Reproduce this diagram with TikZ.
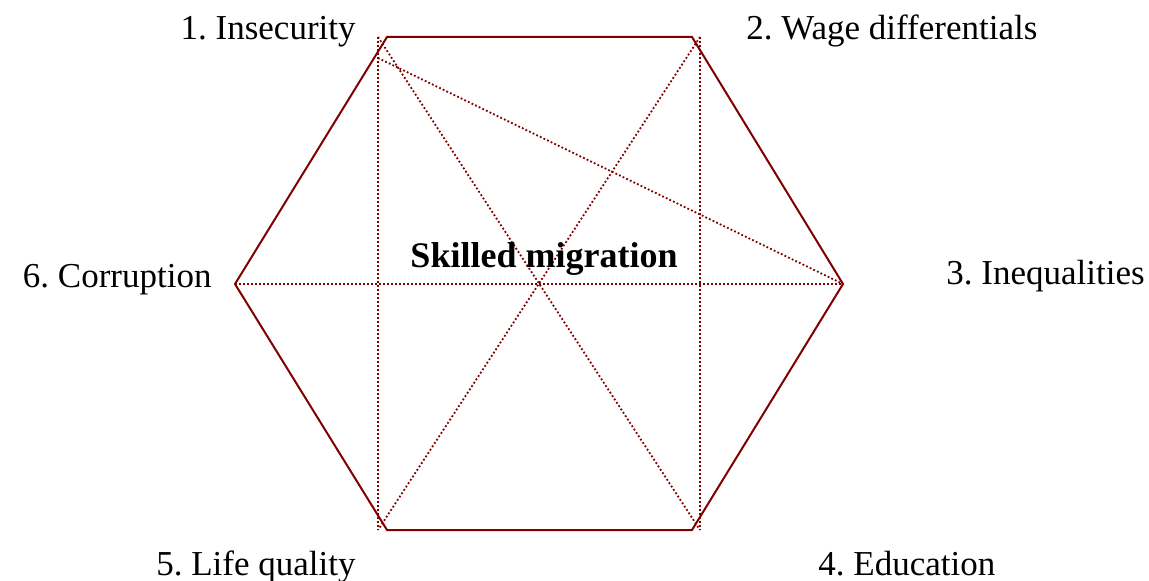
\documentclass[tikz,border=0pt]{standalone}
\usepackage{fontspec}
\setmainfont{Liberation Serif}
\usepackage{tikz}
\definecolor{hexred}{RGB}{128,0,0}
\frenchspacing

\begin{document}
\begin{tikzpicture}[x=0.5pt,y=-0.5pt,
    side/.style={hexred,line width=1pt,line join=miter},
    guide/.style={hexred,line width=0.9pt,dash pattern=on 0.9pt off 1.1pt},
    lbl/.style={inner sep=0pt,font=\fontsize{17.5}{21}\selectfont}]
  \useasboundingbox (0,0) rectangle (1149,581);
  % corners of the hexagon
  \coordinate (v1) at (387,37);
  \coordinate (v2) at (692,37);
  \coordinate (v3) at (843,284);
  \coordinate (v4) at (692,530);
  \coordinate (v5) at (387,530);
  \coordinate (v6) at (235,284);
  % dotted frame
  \coordinate (f1) at (378,37);
  \coordinate (f2) at (700,37);
  \coordinate (f4) at (700,530);
  \coordinate (f5) at (378,530);
  \coordinate (f0) at (378,58);
  \draw[guide] (f1)--(f5) (f2)--(f4);
  \draw[guide] (f1)--(f4) (f2)--(f5);
  \draw[guide] (v6)--(v3) (f0)--(v3);
  \draw[side] (v1)--(v2)--(v3)--(v4)--(v5)--(v6)--cycle;
  % labels
  \node[lbl,anchor=base east] (insec) at (356,40) {1. Insecurity};
  \node[lbl,anchor=base west] (wage) at (746,40) {2. Wage differentials};
  \node[lbl,anchor=base west] (ineq) at (946,285) {3. Inequalities};
  \node[lbl,anchor=base west] (educ) at (818,575) {4. Education};
  \node[lbl,anchor=base east] (life) at (356,575) {5. Life quality};
  \node[lbl,anchor=base east] (corr) at (212,288) {6. Corruption};
  \node[lbl,anchor=base,font=\fontsize{18}{21}\selectfont\bfseries] (skill) at (544,268) {Skilled migration};
\end{tikzpicture}
\end{document}
